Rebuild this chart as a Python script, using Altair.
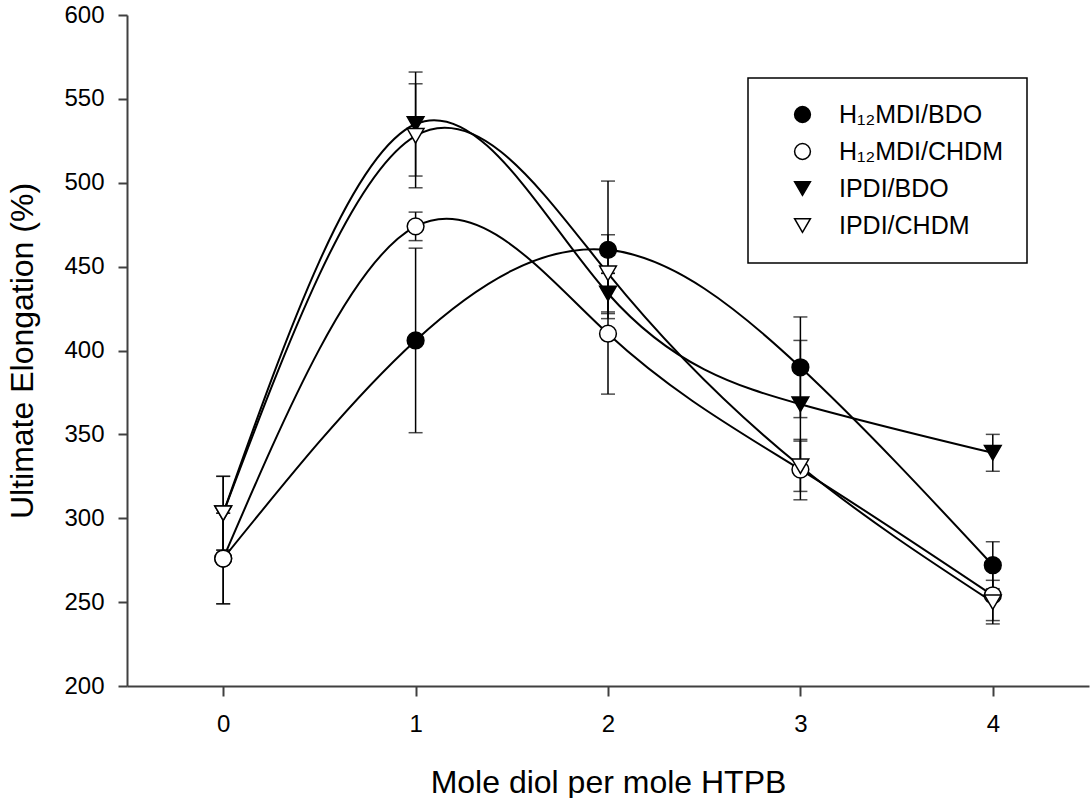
import altair as alt
import pandas as pd

x_vals = [0, 1, 2, 3, 4]
series_names = ["H₁₂MDI/BDO", "H₁₂MDI/CHDM", "IPDI/BDO", "IPDI/CHDM"]

h12_bdo = [276, 406, 460, 390, 272]
h12_bdo_err = [27, 55, 41, 30, 14]
h12_chdm = [276, 474, 410, 329, 254]
h12_chdm_err = [27, 8.5, 36, 18, 15]
ipdi_bdo = [303, 535, 434, 368, 339]
ipdi_bdo_err = [22, 31, 12, 38, 11]
ipdi_chdm = [303, 528, 446, 331, 250]
ipdi_chdm_err = [22, 31, 23, 15, 13]

y_ticks = [200, 250, 300, 350, 400, 450, 500, 550, 600]
x_ticks = [0, 1, 2, 3, 4]

rows = []
for name, ys, es in zip(series_names,
                        [h12_bdo, h12_chdm, ipdi_bdo, ipdi_chdm],
                        [h12_bdo_err, h12_chdm_err, ipdi_bdo_err, ipdi_chdm_err]):
    for xv, yv, ev in zip(x_vals, ys, es):
        rows.append({"series": name, "x": xv, "y": yv, "lo": yv - ev, "hi": yv + ev})
df = pd.DataFrame(rows)

FONT = "Liberation Sans"

xenc = alt.X("x:Q", scale=alt.Scale(domain=[-0.5, 4.5], nice=False, zero=False),
             axis=alt.Axis(title="Mole diol per mole HTPB", values=x_ticks, format="d",
                           tickSize=10, labelPadding=16, labelFontSize=24,
                           titleFontSize=32, titleFontWeight="normal",
                           titleBaseline="alphabetic", titleY=106))
yenc = alt.Y("y:Q", scale=alt.Scale(domain=[200, 600], nice=False, zero=False),
             axis=alt.Axis(title="Ultimate Elongation (%)", values=y_ticks,
                           tickSize=9, labelPadding=14, labelFontSize=24,
                           titleFontSize=32, titleFontWeight="normal",
                           titleBaseline="alphabetic", titleX=-95))

base = alt.Chart(df)

rules = base.mark_rule(color="black", strokeWidth=1.5).encode(
    x=xenc, y="lo:Q", y2="hi:Q")
ticks_lo = base.mark_tick(orient="horizontal", color="black", size=14, thickness=1.5).encode(
    x="x:Q", y="lo:Q")
ticks_hi = base.mark_tick(orient="horizontal", color="black", size=14, thickness=1.5).encode(
    x="x:Q", y="hi:Q")

lines = base.mark_line(interpolate="natural", color="black", strokeWidth=2).encode(
    x="x:Q", y=yenc, detail="series:N")

leg = alt.Legend(title=None, symbolStrokeColor="black", symbolStrokeWidth=1.5)

points = base.mark_point(filled=True, strokeWidth=1.5, opacity=1, size=280).encode(
    x="x:Q", y="y:Q",
    shape=alt.Shape("series:N", sort=series_names,
                    scale=alt.Scale(domain=series_names,
                                    range=["circle", "circle", "triangle-down", "triangle-down"]),
                    legend=leg),
    fill=alt.Fill("series:N", sort=series_names,
                  scale=alt.Scale(domain=series_names,
                                  range=["black", "white", "black", "white"]),
                  legend=leg),
    stroke=alt.Stroke("series:N", sort=series_names,
                      scale=alt.Scale(domain=series_names,
                                      range=["black", "black", "black", "black"]),
                      legend=leg),
)

chart = alt.layer(rules, ticks_lo, ticks_hi, lines, points).properties(
    width=962, height=671,
    autosize=alt.AutoSizeParams(type="none"),
    padding={"left": 127, "top": 15, "right": 2, "bottom": 112},
).configure_view(stroke=None).configure_axis(
    grid=False, domainColor="#404040", domainWidth=2, tickColor="#404040", tickWidth=2,
    labelColor="black", titleColor="black", labelFont=FONT, titleFont=FONT,
).configure_legend(
    orient="none", legendX=621, legendY=63,
    strokeColor="black", strokeWidth=1.5, padding=24, symbolOffset=18,
    labelFont=FONT, labelFontSize=25, labelColor="black", labelOffset=24,
    rowPadding=11, symbolSize=250, symbolStrokeColor="black", symbolStrokeWidth=1.5,
    labelLimit=400,
)

chart.save("out.html", embed_options={"renderer": "svg", "actions": False})
